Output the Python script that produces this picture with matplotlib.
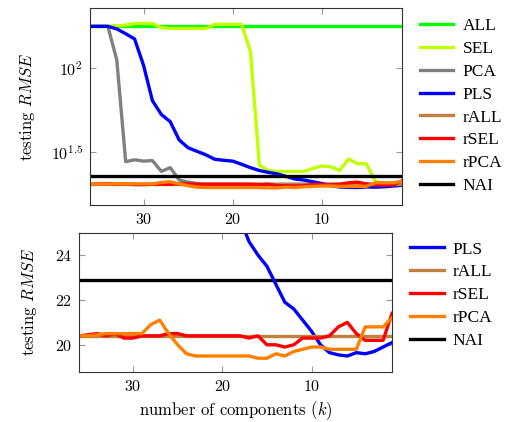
import numpy as np
import matplotlib
matplotlib.use('Agg')
from matplotlib import pyplot as plt

plt.rcParams['font.family'] = 'cmr10'
plt.rcParams['mathtext.fontset'] = 'cm'
plt.rcParams['axes.formatter.use_mathtext'] = True

# number of components, read right to left on the axis
ks = list(range(36, 0, -1))

all_val = 177.0
nai_val = 22.9
rall_val = 20.4

sel = [177, 177, 177, 178, 180, 184, 184, 184, 174, 172, 172, 172, 172, 172,
       182, 182, 182, 182, 125, 26.5, 24.6, 24.3, 24.3, 24.3, 24.3, 25.3,
       26.2, 25.9, 24.6, 28.8, 27.0, 27.0, 21.2, 20.7, 20.7, 21.0]
pca = [177, 177, 177, 112, 27.8, 28.5, 28.0, 28.2, 24.3, 25.6, 21.6, 21.0,
       20.6, 20.4, 20.4, 20.4, 20.4, 20.4, 20.4, 20.4, 20.4, 20.4, 20.4, 20.4,
       20.4, 20.4, 20.4, 20.4, 20.4, 20.4, 20.4, 20.4, 20.4, 20.4, 20.4, 20.4]
pls = [177, 177, 177, 171, 160, 149, 104, 64, 53, 48, 37.4, 33.6, 32, 30.5,
       28.7, 28.3, 28.0, 26.8, 25.6, 24.6, 24.0, 23.5, 22.7, 21.9, 21.6, 21.1,
       20.6, 20.0, 19.65, 19.55, 19.5, 19.65, 19.6, 19.7, 19.9, 20.1]
rsel = [20.4, 20.45, 20.5, 20.4, 20.5, 20.3, 20.3, 20.4, 20.4, 20.4, 20.5,
        20.5, 20.4, 20.4, 20.4, 20.4, 20.4, 20.4, 20.4, 20.3, 20.4, 20.0, 20.0,
        19.9, 20.0, 20.3, 20.3, 20.3, 20.4, 20.8, 21.0, 20.5, 20.2, 20.2, 20.2,
        21.4]
rpca = [20.4, 20.4, 20.45, 20.5, 20.5, 20.5, 20.5, 20.5, 20.9, 21.1, 20.5,
        20.0, 19.6, 19.5, 19.5, 19.5, 19.5, 19.5, 19.5, 19.5, 19.4, 19.4, 19.6,
        19.5, 19.7, 19.8, 19.9, 19.9, 19.8, 19.8, 19.8, 19.8, 20.8, 20.8, 20.8,
        21.2]

c_all = '#00ff00'
c_sel = '#bfff00'
c_pca = '#808080'
c_pls = '#0000ff'
c_rall = '#bf8040'
c_rsel = '#ff0000'
c_rpca = '#ff8000'
c_nai = '#000000'
lw = 2.4

fig = plt.figure(figsize=(5.08, 4.22), dpi=100)
ax1 = fig.add_axes([0.1772, 0.5142, 0.6142, 0.4668])
ax2 = fig.add_axes([0.1561, 0.1192, 0.6156, 0.3294])

def style(ax):
    ax.set_xlim(36, 1)
    ax.set_xticks([30, 20, 10])
    ax.tick_params(direction='in', length=4.5, width=0.8, color='#999999',
                   top=True, right=True, labelsize=11.5, pad=5)
    for s in ax.spines.values():
        s.set_linewidth(0.8)
        s.set_color('#333333')
    ax.set_ylabel(r'testing $RMSE$', fontsize=12)

# top: log scale
ax1.axhline(all_val, color=c_all, lw=lw, label='ALL')
ax1.plot(ks, sel, color=c_sel, lw=lw, label='SEL')
ax1.plot(ks, pca, color=c_pca, lw=lw, label='PCA')
ax1.plot(ks, pls, color=c_pls, lw=lw, label='PLS')
ax1.axhline(rall_val, color=c_rall, lw=lw, label='rALL')
ax1.plot(ks, rsel, color=c_rsel, lw=lw, label='rSEL')
ax1.plot(ks, rpca, color=c_rpca, lw=lw, label='rPCA')
ax1.axhline(nai_val, color=c_nai, lw=lw, label='NAI')
ax1.set_yscale('log')
ax1.set_ylim(15.35, 227.5)
ax1.set_yticks([10**1.5, 100])
ax1.set_yticklabels([r'$10^{1.5}$', r'$10^{2}$'])
ax1.minorticks_off()
style(ax1)
ax1.yaxis.set_label_coords(-0.17, 0.5)

# bottom: linear zoom
ax2.axhline(nai_val, color=c_nai, lw=lw, label='NAI', zorder=1)
ax2.plot(ks, pls, color=c_pls, lw=lw, label='PLS', zorder=2)
ax2.axhline(rall_val, color=c_rall, lw=lw, label='rALL', zorder=2)
ax2.plot(ks, rsel, color=c_rsel, lw=lw, label='rSEL', zorder=2)
ax2.plot(ks, rpca, color=c_rpca, lw=lw, label='rPCA', zorder=2)
ax2.set_ylim(18.8, 25)
ax2.set_yticks([20, 22, 24])
style(ax2)
ax2.yaxis.set_label_coords(-0.13, 0.5)
ax2.set_xlabel(r'number of components ($k$)', fontsize=12)

leg_font = {'family': 'Liberation Serif', 'size': 12.5}
fig.legend(handles=ax1.get_lines(), loc='upper left',
           bbox_to_anchor=(0.826, 0.958), frameon=False, prop=leg_font,
           handlelength=1.95, handletextpad=0.52, labelspacing=0.39,
           borderpad=0, borderaxespad=0)
h2 = ax2.get_lines()
order = [1, 2, 3, 4, 0]
fig.legend(handles=[h2[i] for i in order], loc='upper left',
           bbox_to_anchor=(0.807, 0.428), frameon=False, prop=leg_font,
           handlelength=1.95, handletextpad=0.52, labelspacing=0.39,
           borderpad=0, borderaxespad=0)

fig.savefig('out.png', dpi=100)
